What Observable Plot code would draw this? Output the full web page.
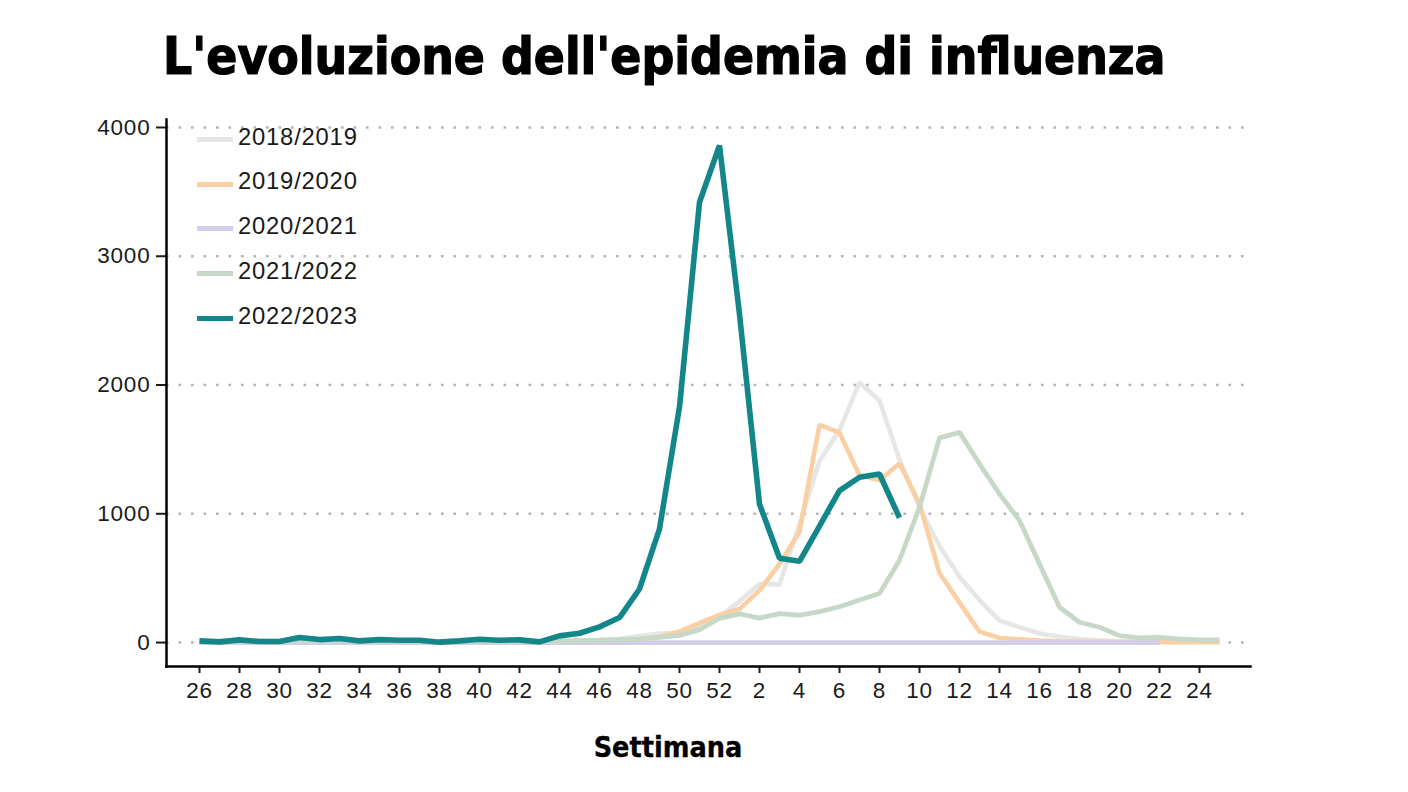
<!DOCTYPE html>
<html>
<head>
<meta charset="utf-8">
<script src="https://cdn.jsdelivr.net/npm/d3@7"></script>
<script src="https://cdn.jsdelivr.net/npm/@observablehq/plot@0.6"></script>
<style>
  html, body { margin: 0; padding: 0; background: #fff; }
  #page { position: relative; width: 1408px; height: 792px; overflow: hidden; background: #fff; }
  #title { position: absolute; left: 163px; top: 32px; font-family: "DejaVu Sans Condensed", "DejaVu Sans", sans-serif; font-stretch: condensed; font-weight: bold; font-size: 51px; line-height: 50px; color: #000; white-space: nowrap; -webkit-text-stroke: 1.2px #000; }
  #chart { position: absolute; left: 0; top: 100px; }
  #xlabel { position: absolute; left: 668px; top: 734px; transform: translateX(-50%); font-family: "DejaVu Sans Condensed", "DejaVu Sans", sans-serif; font-stretch: condensed; font-weight: bold; font-size: 28.5px; line-height: 28px; color: #000; white-space: nowrap; -webkit-text-stroke: 0.3px #000; }
  .lg-sw { position: absolute; left: 197px; width: 36px; height: 5px; }
  .lg-tx { position: absolute; left: 238px; font-family: "Liberation Sans", Arial, sans-serif; font-size: 23.8px; line-height: 24px; letter-spacing: 0.8px; color: #1a1a1a; white-space: nowrap; }
</style>
</head>
<body>
<div id="page">
  <div id="title">L'evoluzione dell'epidemia di influenza</div>
  <div id="chart"></div>
  <div id="legend"></div>
  <div id="xlabel">Settimana</div>
</div>
<script>
// Week labels in season order (week 26 → week 25 of the next year)
const weeks = [26,27,28,29,30,31,32,33,34,35,36,37,38,39,40,41,42,43,44,45,46,47,48,49,50,51,52,
               1,2,3,4,5,6,7,8,9,10,11,12,13,14,15,16,17,18,19,20,21,22,23,24,25];

const seasons = ["2018/2019", "2019/2020", "2020/2021", "2021/2022", "2022/2023"];
const seasonColors = ["#e6e6e6", "#f9cfa3", "#d2cee9", "#c6d9c8", "#13868a"];
const seasonWidths = [4.6, 4.6, 4.8, 4.8, 5.6];

const s2018_2019 = [5,5,5,5,5,5,5,5,5,5,5,5,5,5,5,5,5,5,
                    10,15,20,30,50,70,75,120,200,
                    320,455,450,920,1410,1650,2020,1880,1420,1050,750,510,330,170,120,70,45,28,18,10,8,6,5,5,5];
const s2019_2020 = [5,5,5,5,5,5,5,5,5,5,5,5,5,5,5,5,5,5,
                    8,12,15,18,25,45,85,150,215,
                    260,405,610,860,1690,1630,1300,1260,1390,1080,540,310,85,35,25,15,10,8,5,5,5,3,3,3,3];
const s2020_2021 = [0,0,0,0,0,0,0,0,0,0,0,0,0,0,0,0,0,0,
                    0,0,0,0,0,0,0,0,0,
                    0,0,0,0,0,0,0,0,0,0,0,0,0,0,0,0,0,0,0,0,0,0];
const s2021_2022 = [10,10,12,10,10,15,12,12,10,10,10,10,8,10,12,10,10,8,
                    12,15,18,22,28,40,55,100,188,
                    222,190,225,212,240,278,330,381,639,1051,1590,1632,1388,1155,948,611,274,158,119,54,36,41,28,21,21];
const s2022_2023 = [13,5,21,8,8,39,23,31,13,23,18,18,3,13,26,18,21,5,
                    52,72,122,194,416,883,1830,3419,3860,
                    2550,1075,655,631,905,1180,1284,1309,969];

const seriesValues = [s2018_2019, s2019_2020, s2020_2021, s2021_2022, s2022_2023];

const yTicks = [0, 1000, 2000, 3000, 4000];
const xTicks = d3.range(0, weeks.length - 1, 2); // positions of even-labelled weeks

const rows = [];
seasons.forEach((s, k) => seriesValues[k].forEach((v, i) => rows.push({i, week: weeks[i], value: v, season: s})));

const lineMarks = seasons.map((s, k) =>
  Plot.line(rows.filter(d => d.season === s), {
    x: "i", y: "value",
    stroke: seasonColors[k], strokeWidth: seasonWidths[k],
    strokeLinejoin: "miter", strokeLinecap: "butt"
  })
);

const chart = Plot.plot({
  width: 1408,
  height: 620,
  marginLeft: 166,
  marginRight: 158,
  marginTop: 19,
  marginBottom: 54,
  style: {fontFamily: "Liberation Sans, Arial, sans-serif", fontSize: "22.5px", color: "#1a1a1a", background: "transparent", letterSpacing: "0.8px"},
  x: {domain: [-1.65, 52.55]},
  y: {domain: [-186, 4062]},
  marks: [
    Plot.gridY(yTicks, {stroke: "#b3b3b3", strokeOpacity: 1, strokeWidth: 2.6, strokeDasharray: "2.6,9.9"}),
    ...lineMarks,
    Plot.axisY(yTicks, {tickSize: 10, tickPadding: 6, tickFormat: d => String(d), label: null, strokeWidth: 2}),
    Plot.axisX(xTicks, {tickSize: 7, tickPadding: 9, tickFormat: i => String(weeks[i]), label: null, strokeWidth: 2}),
    Plot.frame({anchor: "left", stroke: "#000", strokeWidth: 2.5}),
    Plot.frame({anchor: "bottom", stroke: "#000", strokeWidth: 2.5})
  ]
});
document.getElementById("chart").appendChild(chart);

// Legend
const legend = document.getElementById("legend");
seasons.forEach((s, k) => {
  const sw = document.createElement("div");
  sw.className = "lg-sw";
  sw.style.top = (136.8 + 44.75 * k) + "px";
  sw.style.background = seasonColors[k];
  legend.appendChild(sw);
  const tx = document.createElement("div");
  tx.className = "lg-tx";
  tx.style.top = (124.7 + 44.75 * k) + "px";
  tx.textContent = s;
  legend.appendChild(tx);
});
</script>
</body>
</html>
